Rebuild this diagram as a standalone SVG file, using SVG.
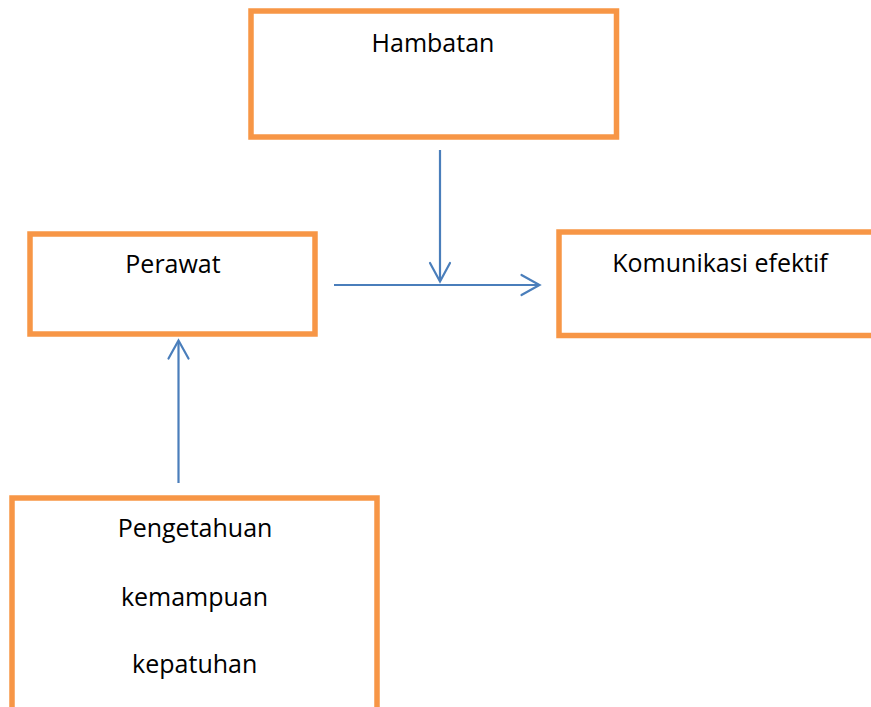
<svg xmlns="http://www.w3.org/2000/svg" width="871" height="707" viewBox="0 0 871 707">
<style>
.box{fill:#fff;stroke:#F79646;stroke-width:5.5}
.lbl{font-family:"Open Sans","Liberation Sans",sans-serif;font-size:25px;fill:#000;text-anchor:middle}
.conn{stroke:#4A7EBB;stroke-width:2.2;fill:none}
.head{stroke:#4A7EBB;stroke-width:2.2;fill:none;stroke-linecap:round}
</style>
<rect width="871" height="707" fill="#fff"/>
<g id="hambatan">
<rect class="box" x="251" y="11" width="365.5" height="126"/>
<text class="lbl" x="433" y="51.5">Hambatan</text>
</g>
<g id="perawat">
<rect class="box" x="30" y="234" width="285" height="100"/>
<text class="lbl" x="173" y="273">Perawat</text>
</g>
<g id="komunikasi">
<rect class="box" x="559" y="232" width="330" height="103.5"/>
<text class="lbl" x="720" y="271.5">Komunikasi efektif</text>
</g>
<g id="pengetahuan">
<rect class="box" x="12" y="498" width="365" height="230"/>
<text class="lbl" x="195" y="537">Pengetahuan</text>
<text class="lbl" x="194.5" y="606">kemampuan</text>
<text class="lbl" x="194.7" y="673">kepatuhan</text>
</g>
<g id="connectors">
<line class="conn" x1="440" y1="150" x2="440" y2="281"/>
<polyline class="head" points="430,263 440,281.5 450,263"/>
<line class="conn" x1="334" y1="285" x2="539" y2="285"/>
<polyline class="head" points="521.5,275 539.5,285 521.5,295"/>
<line class="conn" x1="178.5" y1="483" x2="178.5" y2="341"/>
<polyline class="head" points="168.5,358.5 178.5,340.5 188.5,358.5"/>
</g>
</svg>
